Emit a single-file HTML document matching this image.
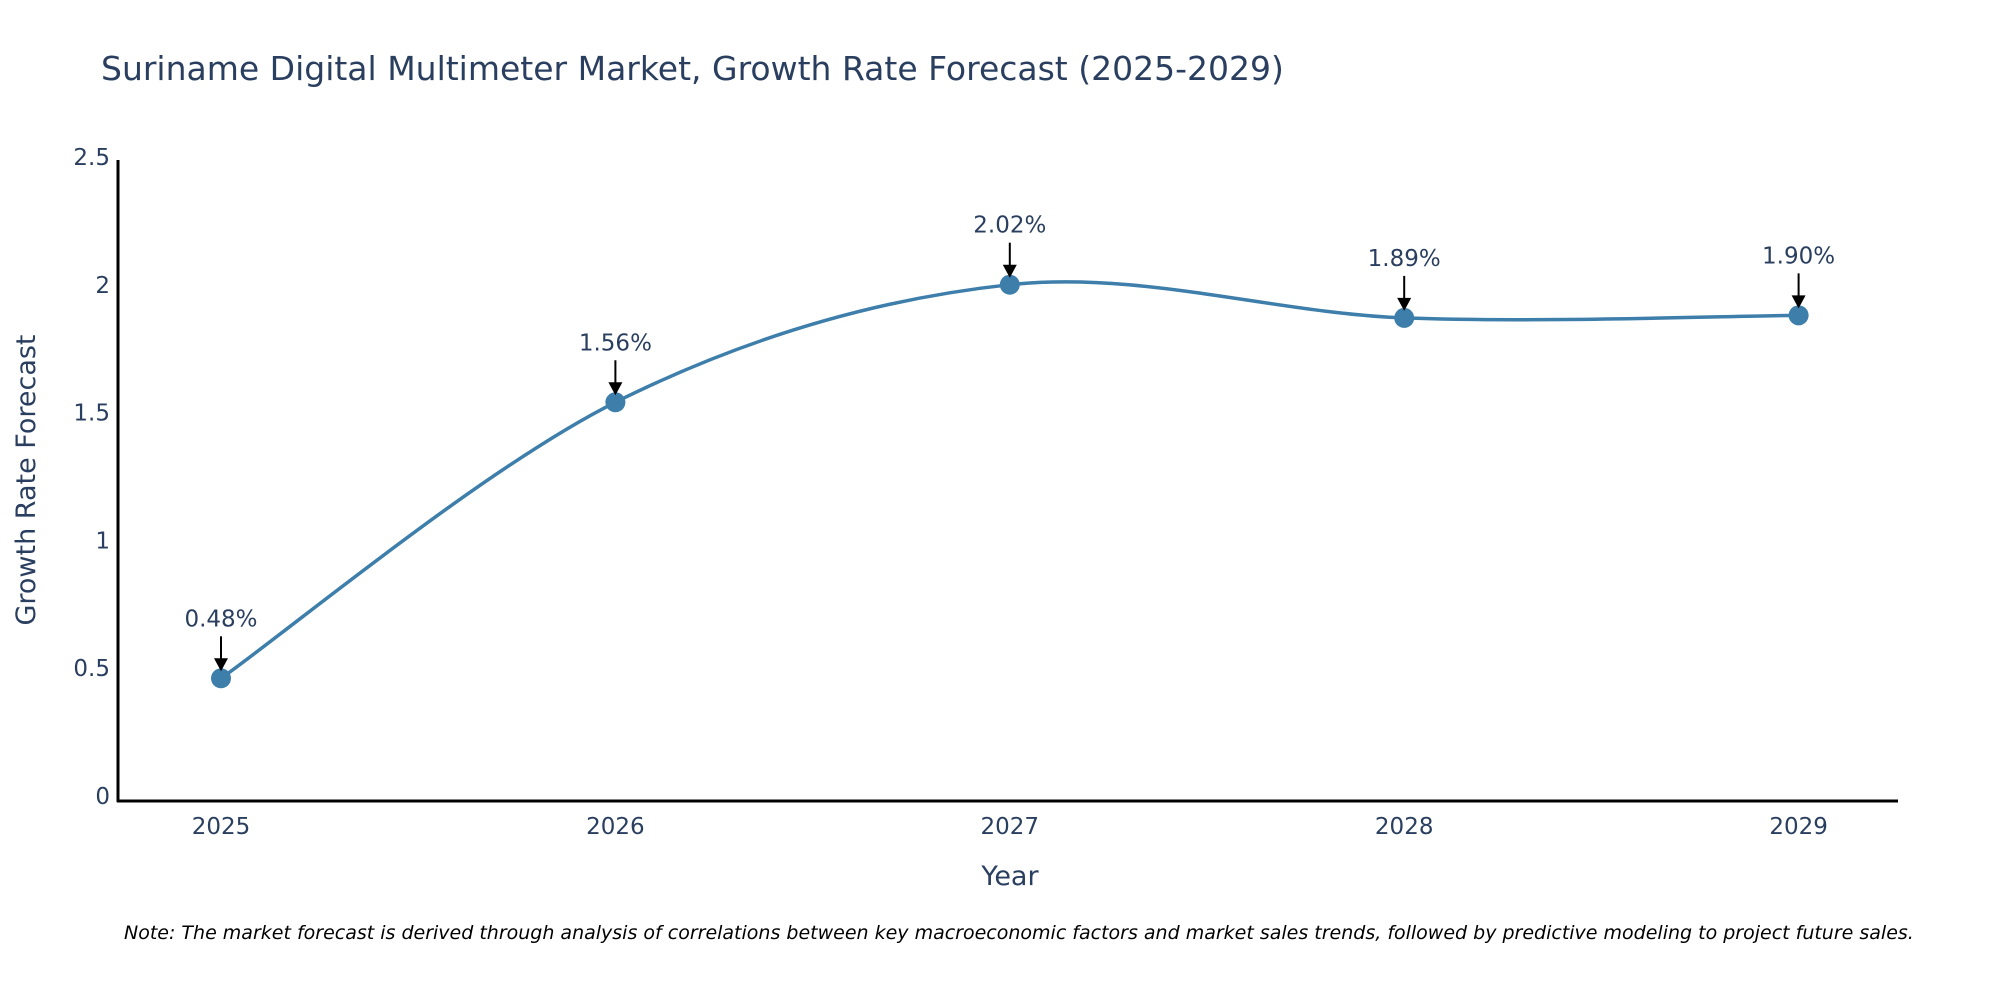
<!DOCTYPE html>
<html><head><meta charset="utf-8">
<style>
html,body{margin:0;padding:0;background:#fff;}
svg text{font-family:"DejaVu Sans","Liberation Sans",sans-serif;fill:#2a3f5f;}
</style></head>
<body>
<svg id="chart" width="2000" height="1000" viewBox="0 0 2000 1000" xmlns="http://www.w3.org/2000/svg">
<text x="101" y="80" font-size="33">Suriname Digital Multimeter Market, Growth Rate Forecast (2025-2029)</text>
<g id="yticks"></g>
<g id="xticks"></g>
<line x1="118" y1="160" x2="118" y2="802" stroke="#000" stroke-width="3"/>
<line x1="117" y1="801" x2="1898" y2="801" stroke="#000" stroke-width="3"/>
<text x="1010" y="885" font-size="27" text-anchor="middle">Year</text>
<text x="0" y="0" font-size="27" text-anchor="middle" transform="translate(35,480) rotate(-90)">Growth Rate Forecast</text>
<g id="series"></g>
<g id="annotations"></g>
<text x="124" y="939" font-size="19" font-style="italic" style="fill:#000">Note: The market forecast is derived through analysis of correlations between key macroeconomic factors and market sales trends, followed by predictive modeling to project future sales.</text>
</svg>
<script>
const years = [2025, 2026, 2027, 2028, 2029];
const growth = [0.48, 1.56, 2.02, 1.89, 1.90];
const labels = ["0.48%", "1.56%", "2.02%", "1.89%", "1.90%"];
const yTicks = [0, 0.5, 1, 1.5, 2, 2.5];
const yTickLabels = ["0", "0.5", "1", "1.5", "2", "2.5"];

const NS = "http://www.w3.org/2000/svg";
const xScale = v => 221 + (v - 2025) * 394.4;
const yScale = v => 801 - v * 255.6;
function mk(tag, attrs, parent){const e=document.createElementNS(NS,tag);for(const k in attrs)e.setAttribute(k,attrs[k]);parent.appendChild(e);return e;}

const yg = document.getElementById("yticks");
yTicks.forEach((t,i)=>{
  const e = mk("text",{x:110,y:yScale(t)+3,"font-size":23,"text-anchor":"end"},yg);
  
  
  e.textContent = yTickLabels[i];
});
const xg = document.getElementById("xticks");
years.forEach(y=>{
  const e = mk("text",{x:xScale(y),y:834,"font-size":23,"text-anchor":"middle"},xg);
  
  
  e.textContent = String(y);
});

const pts = years.map((y,i)=>[xScale(y), yScale(growth[i])]);
let d = `M${pts[0][0]},${pts[0][1]}`;
for(let i=0;i<pts.length-1;i++){
  const p0=pts[Math.max(0,i-1)], p1=pts[i], p2=pts[i+1], p3=pts[Math.min(pts.length-1,i+2)];
  const c1=[p1[0]+(p2[0]-p0[0])/6, p1[1]+(p2[1]-p0[1])/6];
  const c2=[p2[0]-(p3[0]-p1[0])/6, p2[1]-(p3[1]-p1[1])/6];
  d += ` C${c1[0]},${c1[1]} ${c2[0]},${c2[1]} ${p2[0]},${p2[1]}`;
}
const sg = document.getElementById("series");
const line = mk("path",{d:d,fill:"none",stroke:"#3d7eab","stroke-width":3.5},sg);


pts.forEach(p=>{
  const c = mk("circle",{cx:p[0],cy:p[1],r:10,fill:"#3d7eab"},sg);
  
  
});

const ag = document.getElementById("annotations");
pts.forEach((p,i)=>{
  const l = mk("line",{x1:p[0],y1:p[1]-42,x2:p[0],y2:p[1]-18,stroke:"#000","stroke-width":2},ag);
  
  
  const h = mk("polygon",{points:`${p[0]-7},${p[1]-20} ${p[0]+7},${p[1]-20} ${p[0]},${p[1]-7}`,fill:"#000"},ag);
  
  
  const t = mk("text",{x:p[0],y:p[1]-52,"font-size":23,"text-anchor":"middle"},ag);
  
  
  t.textContent = labels[i];
});
</script>
</body></html>
